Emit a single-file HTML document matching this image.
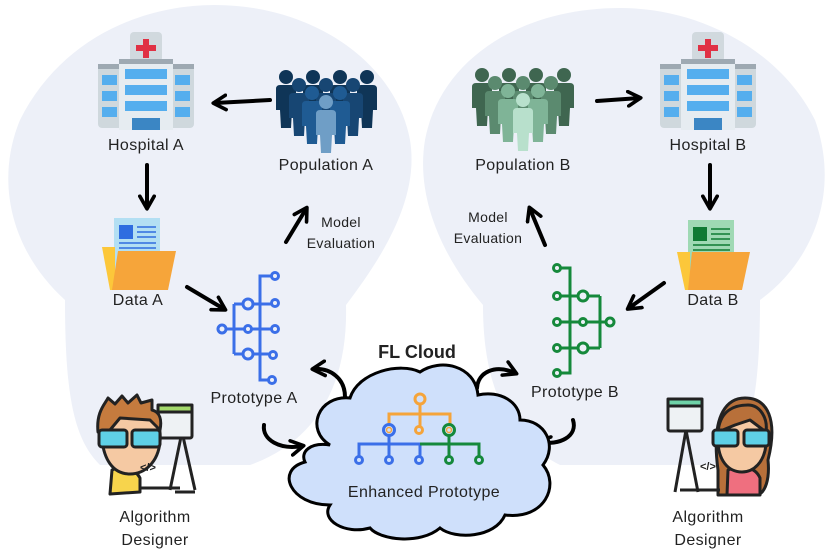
<!DOCTYPE html>
<html><head><meta charset="utf-8"><style>
html,body{margin:0;padding:0;background:#fff;}
svg{display:block;}
text{font-family:"Liberation Sans",sans-serif;fill:#222;}
</style></head><body>
<svg width="831" height="558" viewBox="0 0 831 558" xmlns="http://www.w3.org/2000/svg">
<defs>
<marker id="ah" viewBox="0 0 10 10" refX="7" refY="5" markerWidth="4.5" markerHeight="4.5" orient="auto-start-reverse">
<path d="M1,1 L8,5 L1,9" fill="none" stroke="#000" stroke-width="2" stroke-linecap="round" stroke-linejoin="round"/>
</marker>
<g id="hosp">
<rect x="32" y="0" width="32" height="30" rx="4" fill="#d1d9de"/>
<rect x="45" y="7" width="6" height="19" fill="#e03144"/>
<rect x="38" y="13" width="20" height="6" fill="#e03144"/>
<rect x="0" y="32" width="96" height="64" rx="4" fill="#cfd8dd"/>
<rect x="0" y="32" width="96" height="5" fill="#9ea9b2"/>
<rect x="21" y="27" width="54" height="71" fill="#e6ecf1"/>
<rect x="21" y="27" width="54" height="5" fill="#9ea9b2"/>
<rect x="27" y="37" width="42" height="10" fill="#55aeee"/>
<rect x="27" y="53" width="42" height="10" fill="#55aeee"/>
<rect x="27" y="69" width="42" height="10" fill="#55aeee"/>
<rect x="4" y="43" width="15" height="10" fill="#55aeee"/><rect x="4" y="59" width="15" height="10" fill="#55aeee"/><rect x="4" y="75" width="15" height="10" fill="#55aeee"/>
<rect x="77" y="43" width="15" height="10" fill="#55aeee"/><rect x="77" y="59" width="15" height="10" fill="#55aeee"/><rect x="77" y="75" width="15" height="10" fill="#55aeee"/>
<rect x="34" y="86" width="28" height="12" fill="#3b86c4"/>
</g>
<g id="person"><circle cx="0" cy="7" r="7"/><path d="M-10,19 Q-10,15 -6,15 L6,15 Q10,15 10,19 L10,40 L6,40 L5,58 L-5,58 L-6,40 L-10,40 Z"/></g>
</defs>

<!-- background blobs -->
<path d="M65,300 C10,250 -5,180 20,120 C60,40 140,5 215,5 C310,5 395,60 410,140 C420,200 380,260 346,305 C348,380 320,440 250,465 L100,465 C75,440 65,400 65,300 Z" fill="#edf0f8"/>
<path d="M483,305 C445,260 415,200 425,140 C440,60 520,8 620,8 C700,8 780,50 815,120 C840,190 815,260 760,300 C760,400 750,440 720,465 L560,465 C510,440 483,390 483,305 Z" fill="#edf0f8"/>

<use href="#hosp" x="98" y="32"/>
<use href="#hosp" x="660" y="32"/>

<!-- population A -->
<g fill="#0f3557"><use href="#person" x="286" y="70"/><use href="#person" x="313" y="70"/><use href="#person" x="340" y="70"/><use href="#person" x="367" y="70"/></g>
<g fill="#174673"><use href="#person" x="299" y="78"/><use href="#person" x="326" y="78"/><use href="#person" x="353" y="78"/></g>
<g fill="#1f5b93"><use href="#person" x="312" y="86"/><use href="#person" x="340" y="86"/></g>
<g fill="#6f9ec6"><use href="#person" x="326" y="95"/></g>
<!-- population B -->
<g fill="#3f6650"><use href="#person" x="482" y="68"/><use href="#person" x="509" y="68"/><use href="#person" x="536" y="68"/><use href="#person" x="564" y="68"/></g>
<g fill="#5b8a6f"><use href="#person" x="495" y="76"/><use href="#person" x="523" y="76"/><use href="#person" x="551" y="76"/></g>
<g fill="#7fb497"><use href="#person" x="508" y="84"/><use href="#person" x="538" y="84"/></g>
<g fill="#b8e0cc"><use href="#person" x="523" y="93"/></g>

<!-- Data A -->
<rect x="114" y="218" width="46" height="52" fill="#b3dff3"/>
<rect x="119" y="225" width="14" height="14" fill="#2f6de0"/>
<g stroke="#2f6de0" stroke-width="1.5"><line x1="137" y1="227" x2="156" y2="227"/><line x1="137" y1="232" x2="156" y2="232"/><line x1="137" y1="237" x2="156" y2="237"/><line x1="119" y1="243" x2="156" y2="243"/><line x1="119" y1="248" x2="156" y2="248"/></g>
<path d="M102,247 L115,247 L115,290 L110,290 Z" fill="#fcc73a"/>
<path d="M118,251 L176,251 L168,290 L112,290 Z" fill="#f6a53a"/>
<!-- Data B -->
<rect x="688" y="220" width="46" height="52" fill="#9fd9b4"/>
<rect x="693" y="227" width="14" height="14" fill="#0f7a33"/>
<g stroke="#0f7a33" stroke-width="1.5"><line x1="711" y1="229" x2="730" y2="229"/><line x1="711" y1="234" x2="730" y2="234"/><line x1="711" y1="239" x2="730" y2="239"/><line x1="693" y1="245" x2="730" y2="245"/><line x1="693" y1="250" x2="730" y2="250"/></g>
<path d="M677,252 L690,252 L690,290 L685,290 Z" fill="#fcc73a"/>
<path d="M692,252 L750,252 L742,290 L688,290 Z" fill="#f6a53a"/>

<!-- Prototype A tree -->
<g stroke="#3b6fe8" stroke-width="3" fill="none">
<path d="M275,276 L260,276 L260,380 L272,380"/>
<path d="M234,304 L275,304 M234,354 L273,354 M222,329 L275,329 M234,304 L234,354"/>
</g>
<g stroke="#3b6fe8" stroke-width="3" fill="#edf0f8">
<circle cx="275" cy="276" r="3.5"/><circle cx="248" cy="304" r="5"/><circle cx="275" cy="303" r="3.5"/>
<circle cx="222" cy="329" r="4"/><circle cx="248" cy="329" r="3.5"/><circle cx="275" cy="329" r="3.5"/>
<circle cx="248" cy="354" r="5"/><circle cx="273" cy="355" r="3.5"/><circle cx="272" cy="380" r="3.5"/>
</g>
<!-- Prototype B tree -->
<g stroke="#15893b" stroke-width="3" fill="none">
<path d="M557,268 L570,268 L570,373 L557,373"/>
<path d="M557,296 L600,296 M557,348 L600,348 M557,322 L610,322 M600,296 L600,348"/>
</g>
<g stroke="#15893b" stroke-width="3" fill="#edf0f8">
<circle cx="557" cy="268" r="3.5"/><circle cx="557" cy="296" r="3.5"/><circle cx="583" cy="296" r="5"/>
<circle cx="557" cy="322" r="3.5"/><circle cx="583" cy="322" r="3.5"/><circle cx="610" cy="322" r="4"/>
<circle cx="557" cy="348" r="3.5"/><circle cx="583" cy="348" r="5"/><circle cx="557" cy="373" r="3.5"/>
</g>

<!-- straight arrows -->
<g stroke="#000" stroke-width="4" stroke-linecap="round" fill="none" marker-end="url(#ah)">
<path d="M270,100 L215,103"/>
<path d="M147,165 L147,207"/>
<path d="M187,287 L224,309"/>
<path d="M286,242 L306,209"/>
<path d="M597,101 L639,98"/>
<path d="M710,165 L710,207"/>
<path d="M664,283 L629,308"/>
<path d="M545,245 L530,209"/>
</g>
<g stroke="#000" stroke-width="4" stroke-linecap="round" fill="none" marker-end="url(#ah)">
<path d="M345,397 C345,378 330,368 314,369"/>
<path d="M264,425 C262,440 280,450 302,446"/>
<path d="M477,388 C478,372 495,364 515,373"/>
<path d="M573,420 C578,436 560,446 539,442"/>
</g>

<!-- Cloud -->
<path d="M330,445 C305,430 318,395 350,398 C358,372 400,362 420,372 C440,358 475,365 478,395 C500,390 520,402 520,420 C545,420 558,445 543,465 C560,485 545,520 505,515 C495,538 455,540 440,528 C420,545 380,540 370,528 C345,535 320,520 330,505 C290,505 275,470 305,462 C300,452 310,442 330,445 Z" fill="#cfe0fb" stroke="#000" stroke-width="3"/>
<g stroke-width="3" fill="none">
<path d="M420,400 L420,414 M389,430 L389,414 L450,414 L450,430 M420,414 L420,430" stroke="#f5a43a"/>
<path d="M359,460 L359,444 L420,444 L420,460 M389,435 L389,460" stroke="#3b6fe8"/>
<path d="M420,444 L479,444 L479,460 M449,435 L449,460" stroke="#15893b"/>
</g>
<g stroke-width="3" fill="#cfe0fb">
<circle cx="420" cy="399" r="5" stroke="#f5a43a"/>
<circle cx="389" cy="430" r="5.5" stroke="#3b6fe8"/><circle cx="389" cy="430" r="2.5" stroke="#f5a43a" stroke-width="1.5"/>
<circle cx="419" cy="430" r="3.5" stroke="#f5a43a"/>
<circle cx="449" cy="430" r="5.5" stroke="#15893b"/><circle cx="449" cy="430" r="2.5" stroke="#f5a43a" stroke-width="1.5"/>
<circle cx="359" cy="460" r="3.5" stroke="#3b6fe8"/><circle cx="389" cy="460" r="3.5" stroke="#3b6fe8"/><circle cx="419" cy="460" r="3.5" stroke="#3b6fe8"/>
<circle cx="449" cy="460" r="3.5" stroke="#15893b"/><circle cx="479" cy="460" r="3.5" stroke="#15893b"/>
</g>

<!-- Left designer -->
<g stroke="#222" stroke-width="3" stroke-linejoin="round">
<path d="M182,432 L170,490 M182,432 L195,490" fill="none"/>
<rect x="158" y="405" width="34" height="33" rx="2" fill="#eef2f4"/>
<rect x="158" y="405" width="34" height="7" fill="#a3d86b"/>
<path d="M112,470 C120,466 135,468 140,478 L140,492 L110,494 Z" fill="#f7d44c"/>
<path d="M102,440 C100,415 118,405 132,405 C150,405 162,420 160,442 C158,462 145,474 130,474 C112,474 104,458 102,440 Z" fill="#f5c9a3"/>
<path d="M98,432 C96,412 105,404 108,398 L115,404 L122,396 L128,403 L137,395 L141,403 L152,400 L152,410 C160,412 162,420 160,430 L150,420 L120,418 L110,430 Z" fill="#c57b3e"/>
<rect x="99" y="430" width="28" height="17" rx="3" fill="#5fd0e6"/>
<rect x="132" y="430" width="28" height="17" rx="3" fill="#5fd0e6"/>
<path d="M140,488 L180,488 M175,492 L195,492" fill="none"/>
</g>
<text x="140" y="471" font-size="11" font-weight="bold" fill="#222">&lt;/&gt;</text>
<!-- Right designer -->
<g stroke="#222" stroke-width="3" stroke-linejoin="round">
<path d="M686,430 L675,492 M686,430 L698,492" fill="none"/>
<rect x="668" y="399" width="34" height="32" rx="2" fill="#eef2f4"/>
<rect x="668" y="399" width="34" height="7" fill="#6fd3a8"/>
<path d="M718,470 C710,410 730,398 745,398 C768,398 778,420 768,460 C770,480 765,492 758,495 L718,495 Z" fill="#b8703a"/>
<path d="M728,470 C740,465 755,466 760,478 L760,495 L727,495 Z" fill="#ef6f7f"/>
<path d="M718,440 C718,420 730,412 745,412 C760,412 768,425 766,445 C764,462 754,472 742,472 C728,472 718,460 718,440 Z" fill="#f5c9a3"/>
<path d="M718,432 C720,410 735,405 748,405 C760,405 768,418 766,432 L750,420 L735,425 Z" fill="#b8703a"/>
<rect x="713" y="430" width="25" height="16" rx="3" fill="#5fd0e6"/>
<rect x="744" y="430" width="25" height="16" rx="3" fill="#5fd0e6"/>
<path d="M680,490 L720,490" fill="none"/>
</g>
<text x="700" y="470" font-size="11" font-weight="bold" fill="#222">&lt;/&gt;</text>

<!-- labels -->
<g font-size="16" text-anchor="middle" letter-spacing="0.4">
<text x="146" y="150">Hospital A</text>
<text x="326" y="170">Population A</text>
<text x="138" y="305">Data A</text>
<text x="254" y="403">Prototype A</text>
<text x="708" y="150">Hospital B</text>
<text x="523" y="170">Population B</text>
<text x="713" y="305">Data B</text>
<text x="575" y="397">Prototype B</text>
<text x="424" y="497">Enhanced Prototype</text>
<text x="155" y="522">Algorithm</text>
<text x="155" y="545">Designer</text>
<text x="708" y="522">Algorithm</text>
<text x="708" y="545">Designer</text>
</g>
<text x="417" y="358" font-size="18" font-weight="bold" text-anchor="middle" fill="#000">FL Cloud</text>
<g font-size="14" text-anchor="middle" letter-spacing="0.3">
<text x="341" y="227">Model</text>
<text x="341" y="248">Evaluation</text>
<text x="488" y="222">Model</text>
<text x="488" y="243">Evaluation</text>
</g>
</svg>
</body></html>
